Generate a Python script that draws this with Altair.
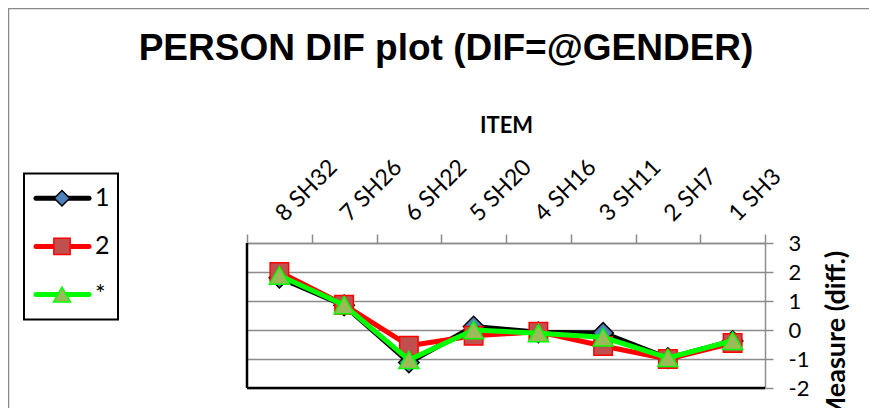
import altair as alt
import pandas as pd

# ---------------- data ----------------
items = ["8 SH32", "7 SH26", "6 SH22", "5 SH20", "4 SH16", "3 SH11", "2 SH7", "1 SH3"]
series_names = ["1", "2", "*"]
values_1 = [1.80, 0.85, -1.12, 0.12, -0.08, -0.10, -0.97, -0.38]
values_2 = [2.00, 0.87, -0.54, -0.20, -0.06, -0.55, -1.00, -0.45]
values_star = [1.88, 0.86, -1.03, 0.00, -0.11, -0.25, -0.96, -0.37]
y_ticks = [3, 2, 1, 0, -1, -2]

# ---------------- styles ----------------
line_colors = ["#000000", "#FF0000", "#00FF00"]
marker_fills = ["#4F81BD", "#C0504D", "#9BBB59"]
marker_shapes = ["diamond", "square", "triangle-up"]
marker_sizes = [420, 340, 400]
legend_sizes = [240, 290, 330]
GRAY = "#8c8c8c"
LABEL_FONT = "Lato"

rows = []
for name, vals in zip(series_names, [values_1, values_2, values_star]):
    for it, v in zip(items, vals):
        rows.append({"item": it, "series": name, "value": v})
df = pd.DataFrame(rows)
legend_df = pd.DataFrame({"series": series_names, "row": [0, 1, 2]})
one = pd.DataFrame({"k": [0]})

W, H = 518, 145

x_axis = alt.Axis(
    orient="top",
    title="ITEM",
    titleFont=LABEL_FONT,
    titleFontSize=22,
    titleFontWeight="bold",
    titleColor="black",
    titleY=-118,
    titleBaseline="middle",
    labelAngle=315,
    labelAlign="left",
    labelBaseline="middle",
    labelFont=LABEL_FONT,
    labelFontSize=23,
    labelColor="black",
    labelPadding=17,
    labelOverlap=False,
    tickBand="extent",
    tickColor=GRAY,
    tickSize=9,
    tickWidth=1.5,
    domainColor=GRAY,
    domainWidth=1.5,
    grid=False,
)
y_axis = alt.Axis(
    orient="right",
    values=y_ticks,
    labelExpr="'' + datum.value",
    title="Measure (diff.)",
    titleAngle=270,
    titleFont=LABEL_FONT,
    titleFontSize=27,
    titleFontWeight="bold",
    titleColor="black",
    titleX=71,
    titleY=93,
    titleAlign="center",
    titleBaseline="middle",
    labelFont=LABEL_FONT,
    labelFontSize=22,
    labelColor="black",
    labelPadding=15,
    labelAlign="left",
    labelFlush=False,
    labelOverlap=False,
    tickColor=GRAY,
    tickSize=8,
    tickWidth=1.5,
    domainColor=GRAY,
    domainWidth=1.5,
    grid=True,
    gridColor=GRAY,
    gridWidth=1.5,
)
y_scale = alt.Scale(domain=[-2, 3], nice=False, zero=False)

x_enc = alt.X(
    "item:N",
    sort=items,
    scale=alt.Scale(type="band", paddingInner=0, paddingOuter=0),
    axis=x_axis,
)
y_enc = alt.Y("value:Q", scale=y_scale, axis=y_axis)

base = alt.Chart(df)
main_layers = []
for i, name in enumerate(series_names):
    sub = base.transform_filter(alt.datum.series == name)
    main_layers.append(
        sub.mark_line(color=line_colors[i], strokeWidth=5, strokeJoin="round").encode(x=x_enc, y=y_enc)
    )
    main_layers.append(
        sub.mark_point(
            shape=marker_shapes[i],
            size=marker_sizes[i],
            filled=True,
            fill=marker_fills[i],
            stroke=line_colors[i],
            strokeWidth=1.5,
            opacity=1,
        ).encode(x=x_enc, y=y_enc)
    )
# plot-area left and bottom black borders
bottom_rule = alt.Chart(one).mark_rule(color="black", strokeWidth=2.5).encode(
    y=alt.YDatum(y_ticks[-1], scale=y_scale, axis=y_axis)
)
left_rule = alt.Chart(one).mark_rule(color="black", strokeWidth=2.5).encode(x=alt.value(0))
main = alt.layer(*main_layers, bottom_rule, left_rule)

# ---------------- legend ----------------
row_y = alt.Y("row:Q", scale=alt.Scale(domain=[0, 2], range=[-44.7, 51.6]), axis=None)
leg = alt.Chart(legend_df)
legend_layers = [
    alt.Chart(one).mark_rect(fillOpacity=0, stroke="black", strokeWidth=2).encode(
        x=alt.value(-223), x2=alt.value(-129), y=alt.value(-69.5), y2=alt.value(76.5)
    ),
    leg.mark_rule(strokeWidth=5, strokeCap="round").encode(
        x=alt.value(-211),
        x2=alt.value(-158),
        y=row_y,
        color=alt.Color("series:N", scale=alt.Scale(domain=series_names, range=line_colors), legend=None),
    ),
    leg.mark_point(filled=True, strokeWidth=1.5, opacity=1).encode(
        x=alt.value(-185),
        y=row_y,
        shape=alt.Shape("series:N", scale=alt.Scale(domain=series_names, range=marker_shapes), legend=None),
        fill=alt.Fill("series:N", scale=alt.Scale(domain=series_names, range=marker_fills), legend=None),
        stroke=alt.Stroke("series:N", scale=alt.Scale(domain=series_names, range=line_colors), legend=None),
        size=alt.Size("series:N", scale=alt.Scale(domain=series_names, range=legend_sizes), legend=None),
    ),
    leg.mark_text(align="left", baseline="middle", font=LABEL_FONT, fontSize=25, color="black").encode(
        x=alt.value(-152), y=row_y, text="series:N"
    ),
]
legend = alt.layer(*legend_layers)

frame = alt.Chart(one).mark_rect(fillOpacity=0, stroke="#8a8a8a", strokeWidth=1.5).encode(
    x=alt.value(-238.5), x2=alt.value(W + 300), y=alt.value(-234.5), y2=alt.value(H + 300)
)

chart = (
    alt.layer(frame, main, legend)
    .resolve_scale(y="independent")
    .properties(
        width=W,
        height=H,
        title=alt.Title(
            "PERSON DIF plot (DIF=@GENDER)",
            font="Liberation Sans",
            fontSize=37,
            fontWeight="bold",
            color="black",
            anchor="middle",
            baseline="alphabetic",
            offset=0,
            dx=-60,
            dy=89,
        ),
        autosize=alt.AutoSizeParams(type="none"),
        padding={"left": 239, "top": 235, "right": 104, "bottom": 20},
        background="white",
    )
    .configure_view(stroke=None)
)

chart.save("out.html", embed_options={"renderer": "svg", "actions": False})
